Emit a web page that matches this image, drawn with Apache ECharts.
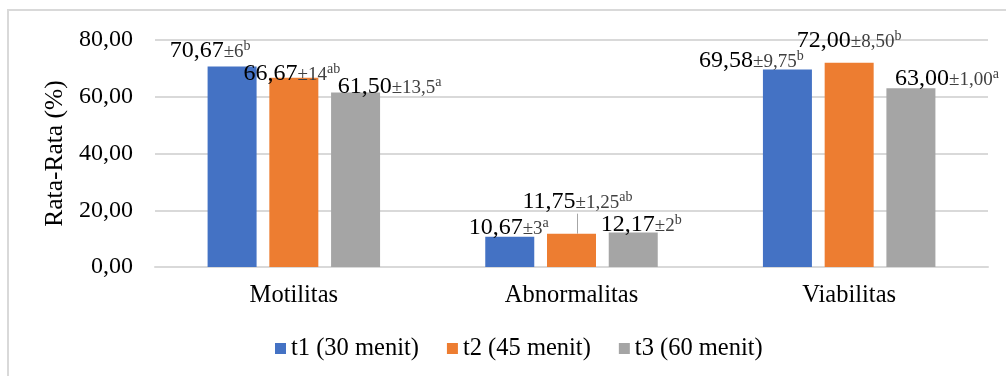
<!DOCTYPE html>
<html>
<head>
<meta charset="utf-8">
<script src="https://cdn.jsdelivr.net/npm/echarts@6/dist/echarts.min.js"></script>
<style>
  html, body { margin: 0; padding: 0; background: #fff; }
  #chart { width: 1006px; height: 376px; }
</style>
</head>
<body>
<div id="chart"></div>
<script>
// Kategori parameter dan nilai rata-rata tiap waktu pengamatan
const categories = ['Motilitas', 'Abnormalitas', 'Viabilitas'];
const seriesNames = ['t1 (30 menit)', 't2 (45 menit)', 't3 (60 menit)'];
const t1Values = [70.67, 10.67, 69.58];
const t2Values = [66.67, 11.75, 72.00];
const t3Values = [61.50, 12.17, 63.00];
// Simpangan baku dan notasi beda nyata
const t1Sd = ['6', '3', '9,75'];
const t2Sd = ['14', '1,25', '8,50'];
const t3Sd = ['13,5', '2', '1,00'];
const t1Notes = ['b', 'a', 'b'];
const t2Notes = ['ab', 'ab', 'b'];
const t3Notes = ['a', 'b', 'a'];
const yTicks = { min: 0, max: 80, interval: 20 };

const colors = ['#4472C4', '#ED7D31', '#A5A5A5'];
const FONT = '"Liberation Serif", "Times New Roman", serif';

// Geseran posisi label (piksel) per seri, per kategori
const labelShift = [
  [[-22, 1], [-1, 8], [-36, 8]],
  [[-2, 13], [6, -15], [0, -5]],
  [[34, 11], [8, 9], [36, 7]]
];

const values = [t1Values, t2Values, t3Values];
const sds = [t1Sd, t2Sd, t3Sd];
const notes = [t1Notes, t2Notes, t3Notes];

function fmt(v) { return v.toFixed(2).replace('.', ','); }

const richStyle = {
  m: { fontFamily: FONT, fontSize: 24, color: '#000' },
  pm: { fontFamily: FONT, fontSize: 19, color: '#404040', padding: [3, 0, 0, 0] },
  sup: { fontFamily: FONT, fontSize: 14, color: '#404040', padding: [0, 0, 8, 0] }
};

const series = values.map((vals, si) => ({
  name: seriesNames[si],
  type: 'bar',
  barWidth: 49,
  barGap: '26%',
  itemStyle: { color: colors[si] },
  data: vals.map((v, ci) => {
    const item = { value: v };
    if (si === 1 && ci === 1) {
      item.labelLine = { show: true, lineStyle: { color: '#A6A6A6', width: 1 } };
    }
    return item;
  }),
  label: {
    show: true,
    position: 'top',
    distance: 5,
    formatter: p => '{m|' + fmt(p.value) + '}{pm|±' + sds[si][p.dataIndex] + '}{sup|' + notes[si][p.dataIndex] + '}',
    rich: richStyle
  },
  labelLine: { show: false },
  labelLayout: p => ({ dx: labelShift[si][p.dataIndex][0], dy: labelShift[si][p.dataIndex][1] })
}));

const chart = echarts.init(document.getElementById('chart'));
chart.setOption({
  animation: false,
  color: colors,
  textStyle: { fontFamily: FONT },
  graphic: [{
    type: 'rect',
    silent: true,
    shape: { x: 8, y: 10, width: 1200, height: 600 },
    style: { fill: 'none', stroke: '#D9D9D9', lineWidth: 2 }
  }],
  grid: { left: 155, right: 18, top: 40, bottom: 109 },
  legend: {
    bottom: 10,
    left: 270,
    icon: 'rect',
    itemWidth: 11,
    itemHeight: 11,
    itemGap: 28,
    data: seriesNames,
    textStyle: { fontFamily: FONT, fontSize: 24.5, color: '#000' }
  },
  xAxis: {
    type: 'category',
    data: categories,
    axisTick: { show: false },
    axisLine: { show: true, lineStyle: { color: '#D9D9D9', width: 2 } },
    axisLabel: { fontFamily: FONT, fontSize: 24.5, color: '#000', margin: 16 }
  },
  yAxis: {
    type: 'value',
    min: yTicks.min,
    max: yTicks.max,
    interval: yTicks.interval,
    name: 'Rata-Rata (%)',
    nameLocation: 'middle',
    nameGap: 84,
    nameTextStyle: { fontFamily: FONT, fontSize: 25.5, color: '#000' },
    axisLine: { show: false },
    axisTick: { show: false },
    splitLine: { lineStyle: { color: '#D9D9D9', width: 2 } },
    axisLabel: { fontFamily: FONT, fontSize: 24, color: '#000', margin: 22, formatter: v => fmt(v) }
  },
  series: series
});
</script>
</body>
</html>
